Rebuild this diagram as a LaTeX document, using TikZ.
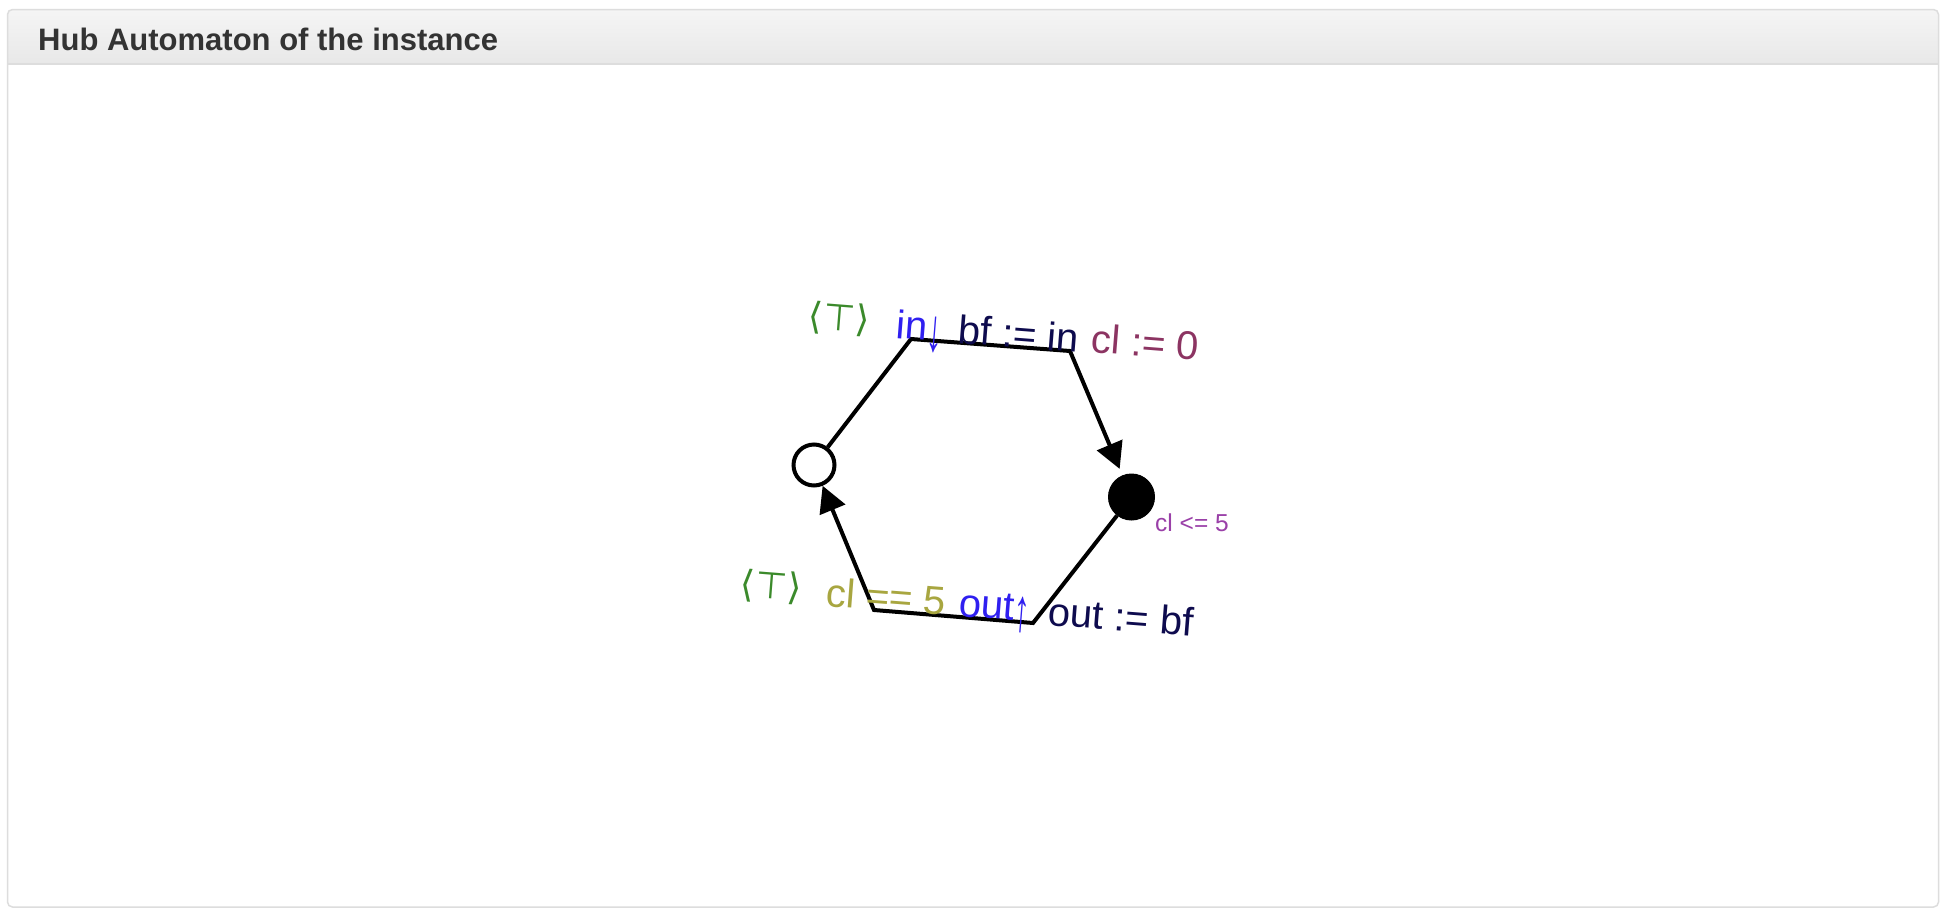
\documentclass[tikz,border=0pt]{standalone}
\usepackage{fontspec}
\setmainfont{Liberation Sans}
\newfontfamily\djv{DejaVu Sans}
\usetikzlibrary{arrows.meta}
\definecolor{panelborder}{HTML}{DDDDDD}
\definecolor{hdrtop}{HTML}{F5F5F5}
\definecolor{hdrbot}{HTML}{E8E8E8}
\definecolor{hdrtext}{HTML}{333333}
\definecolor{topgreen}{HTML}{3B8A2B}
\definecolor{portblue}{HTML}{2F1FF0}
\definecolor{navy}{HTML}{0E0B4E}
\definecolor{maroon}{HTML}{8C3462}
\definecolor{olive}{HTML}{A8A640}
\definecolor{invpurple}{HTML}{9A40A8}
\newcommand{\tallarrow}[1]{\raisebox{-10pt}{\resizebox*{16pt}{36pt}{#1}}}
\begin{document}
\begin{tikzpicture}[x=1pt,y=-1pt,
  state/.style={circle,draw=black,line width=4pt,minimum size=41pt,inner sep=0pt},
  finalstate/.style={circle,fill=black,draw=black,line width=1pt,minimum size=46pt,inner sep=0pt},
  edge/.style={line width=4pt,line join=miter},
  tipped/.style={edge,-{Triangle[length=26pt,width=27pt]}},
  lbl/.style={inner sep=0pt,font=\fontsize{40}{48}\selectfont,rotate=-4.5,anchor=base west},
  guard/.style={inner sep=0pt,font=\djv\fontsize{37}{44}\selectfont,text=topgreen,rotate=-4.5}
]
\useasboundingbox (0,0) rectangle (1946,916);
\fill[white] (0,0) rectangle (1946,916);
% panel
\fill[white,rounded corners=5pt] (7.5,9.5) rectangle (1938.5,907);
\shade[top color=hdrtop,bottom color=hdrbot] (7.5,64) [rounded corners=5pt] -- (7.5,9.5) -- (1938.5,9.5) [sharp corners] -- (1938.5,64) -- cycle;
\draw[panelborder,line width=1.5pt] (7.5,64) -- (1938.5,64);
\draw[panelborder,line width=1.5pt,rounded corners=5pt] (7.5,9.5) rectangle (1938.5,907);
\node[anchor=west,inner sep=0pt,text=hdrtext,font=\bfseries\fontsize{31}{37}\selectfont] (title) at (38,39) {Hub Automaton of the instance};
% states
\node[state] (s0) at (814,465) {};
\node[finalstate] (s1) at (1131.5,497) {};
\coordinate (tl) at (911,339);
\coordinate (tr) at (1070,351);
\coordinate (br) at (1033,623);
\coordinate (bl) at (874,610);
\draw[tipped,shorten >=7pt] (s0) -- (tl) -- (tr) -- (s1);
\draw[tipped] (s1) -- (br) -- (bl) -- (s0);
% top labels
\node[guard] (g1) at (839,319) {⟨⊤⟩};
\node[lbl,text=portblue] (p1) at (895,338) {in\tallarrow{↓}};
\node[lbl,text=navy] (a1) at (957,343) {bf := in};
\node[lbl,text=maroon] (c1) at (1090,352) {cl := 0};
% invariant
\node[inner sep=0pt,text=invpurple,font=\fontsize{24.5}{30}\selectfont] (inv) at (1192,523) {cl <= 5};
% bottom labels
\node[guard] (g2) at (771,587) {⟨⊤⟩};
\node[lbl,text=olive] (c2) at (825,606) {cl == 5};
\node[lbl,text=portblue] (p2) at (958,616) {out\tallarrow{↑}};
\node[lbl,text=navy] (a2) at (1047,625) {out := bf};
\end{tikzpicture}
\end{document}
